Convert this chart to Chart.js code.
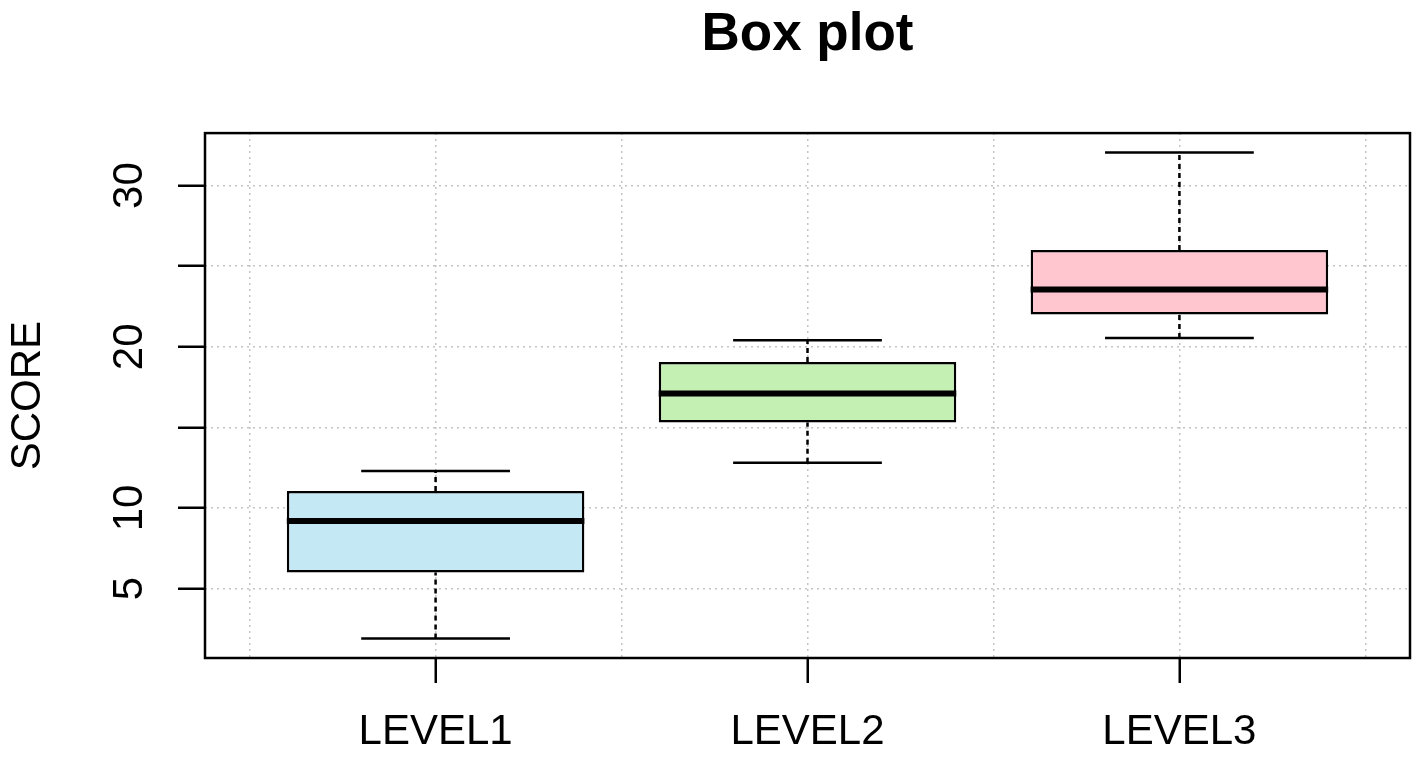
<!DOCTYPE html>
<html>
<head>
<meta charset="utf-8">
<script src="https://cdn.jsdelivr.net/npm/chart.js@4/dist/chart.umd.min.js"></script>
<style>
  body { margin: 0; background: #fff; }
  #wrap { width: 1418px; height: 760px; }
</style>
</head>
<body>
<div id="wrap"><canvas id="boxChart" width="1418" height="760"></canvas></div>
<script>
// Box plot data
var categories = ['LEVEL1', 'LEVEL2', 'LEVEL3']
var whiskerLow = [1.9, 12.8, 20.55]
var q1 = [6.0, 15.3, 22.0]
var medians = [9.2, 17.1, 23.55]
var q3 = [11.05, 19.05, 26.0]
var whiskerHigh = [12.3, 20.4, 32.05]
var yTicks = [5, 10, 15, 20, 25, 30]
var yTickLabels = ['5', '10', '', '20', '', '30']

var fills = ['#c4e8f4', '#c4f0b4', '#ffc6d0']

// R style limits: groups at 1..n, range padded by 4%
var xMin = 0.5 - 0.04 * categories.length
var xMax = categories.length + 0.5 + 0.04 * categories.length
var lo = Math.min.apply(null, whiskerLow), hi = Math.max.apply(null, whiskerHigh)
var yMin = lo - 0.04 * (hi - lo)
var yMax = hi + 0.04 * (hi - lo)

var boxData = categories.map(function (c, i) { return { x: i + 1, y: [q1[i], q3[i]] } })

var medianData = [], capData = [], whiskerData = []
categories.forEach(function (c, i) {
  var x = i + 1
  medianData.push({ x: x - 0.4, y: medians[i] }, { x: x + 0.4, y: medians[i] }, { x: x, y: null })
  capData.push({ x: x - 0.2, y: whiskerLow[i] }, { x: x + 0.2, y: whiskerLow[i] }, { x: x, y: null })
  capData.push({ x: x - 0.2, y: whiskerHigh[i] }, { x: x + 0.2, y: whiskerHigh[i] }, { x: x, y: null })
  whiskerData.push({ x: x, y: whiskerLow[i] }, { x: x, y: q1[i] }, { x: x, y: null })
  whiskerData.push({ x: x, y: q3[i] }, { x: x, y: whiskerHigh[i] }, { x: x, y: null })
})

var xTicks = []
for (var t = 0.5; t <= categories.length + 0.5; t += 0.5) xTicks.push(t)

var frame = {
  id: 'frame',
  afterDatasetsDraw: function (chart) {
    var a = chart.chartArea, ctx = chart.ctx
    ctx.save()
    ctx.lineWidth = 2.5
    ctx.strokeStyle = '#000'
    ctx.strokeRect(a.left, a.top, a.right - a.left, a.bottom - a.top)
    ctx.restore()
  }
}

var gridGrey = '#c4c4c4'

new Chart(document.getElementById('boxChart'), {
  type: 'bar',
  data: {
    datasets: [{
      type: 'line',
      data: medianData,
      borderColor: '#000',
      borderWidth: 6,
      pointRadius: 0,
      spanGaps: false,
      order: 0
    }, {
      type: 'line',
      data: capData,
      borderColor: '#000',
      borderWidth: 2.5,
      pointRadius: 0,
      spanGaps: false,
      order: 1
    }, {
      type: 'line',
      data: whiskerData,
      borderColor: '#000',
      borderWidth: 2.5,
      borderDash: [5, 4],
      pointRadius: 0,
      spanGaps: false,
      order: 2
    }, {
      data: boxData,
      backgroundColor: fills,
      borderColor: '#000',
      borderWidth: 2.5,
      borderSkipped: false,
      categoryPercentage: 1,
      barPercentage: 1.6, // ruler uses the 0.5 tick spacing -> 0.8 units wide
      order: 3
    }]
  },
  options: {
    responsive: false,
    animation: false,
    layout: { padding: { left: 0, right: 8, top: 0, bottom: 0 } },
    plugins: {
      legend: { display: false },
      tooltip: { enabled: false },
      title: {
        display: true,
        fullSize: false, // centre over the plot region like R
        text: 'Box plot',
        color: '#000',
        font: { family: 'Liberation Sans', size: 53, weight: 'bold' },
        padding: { top: 4, bottom: 65.5 }
      }
    },
    scales: {
      x: {
        type: 'linear',
        min: xMin,
        max: xMax,
        offset: false,
        afterBuildTicks: function (s) { s.ticks = xTicks.map(function (v) { return { value: v } }) },
        afterFit: function (s) { s.height = 102 },
        border: { display: false, dash: [2, 4] },
        grid: {
          offset: false,
          color: gridGrey,
          lineWidth: 1.5,
          tickLength: 25,
          tickWidth: 2.5,
          tickColor: function (ctx) { return ctx.tick && ctx.tick.value % 1 === 0 ? '#000' : 'rgba(0,0,0,0)' }
        },
        ticks: {
          autoSkip: false,
          maxRotation: 0,
          padding: 24,
          color: '#000',
          font: { family: 'Liberation Sans', size: 42 },
          callback: function (v) { return v % 1 === 0 ? categories[v - 1] : '' }
        }
      },
      y: {
        min: yMin,
        max: yMax,
        afterBuildTicks: function (s) { s.ticks = yTicks.map(function (v) { return { value: v } }) },
        afterFit: function (s) { s.width = 205 },
        border: { display: false, dash: [2, 4] },
        grid: {
          color: gridGrey,
          lineWidth: 1.5,
          tickLength: 27,
          tickWidth: 2.5,
          tickColor: '#000'
        },
        ticks: {
          autoSkip: false,
          minRotation: 90,
          maxRotation: 90,
          crossAlign: 'center',
          padding: 24,
          color: '#000',
          font: { family: 'Liberation Sans', size: 42 },
          callback: function (v, i) { return yTickLabels[i] }
        },
        title: {
          display: true,
          text: 'SCORE',
          color: '#000',
          font: { family: 'Liberation Sans', size: 42 },
          padding: { top: 3, bottom: 0 }
        }
      }
    }
  },
  plugins: [frame]
})
</script>
</body>
</html>
